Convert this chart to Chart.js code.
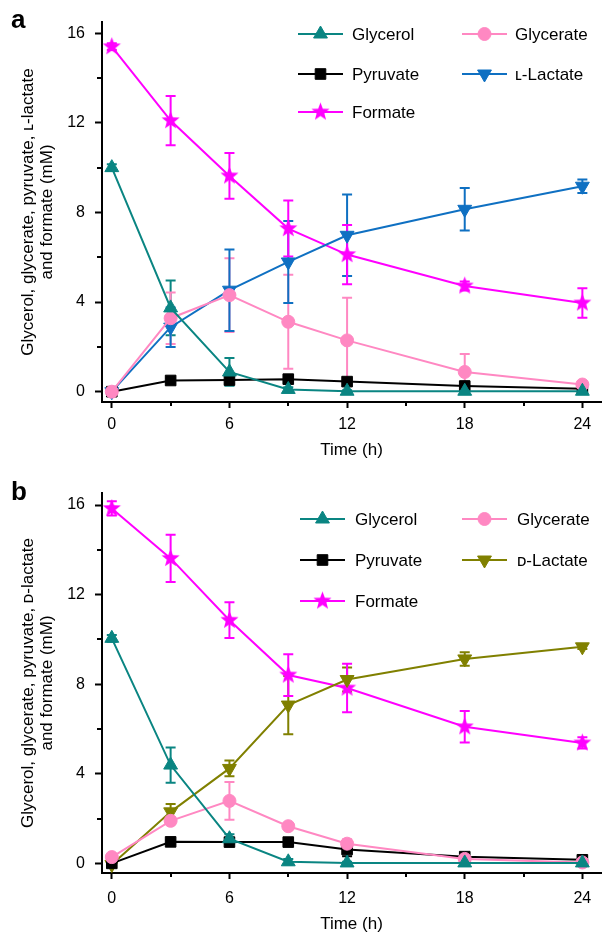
<!DOCTYPE html>
<html lang="en">
<head>
    <meta charset="utf-8">
    <title>Glycerol, glycerate, pyruvate, lactate and formate time course</title>
    <script src="https://cdn.jsdelivr.net/npm/chart.js"></script>
    <style>
        html, body { margin: 0; padding: 0; background: #fff; overflow: hidden; }
        body { width: 611px; height: 933px; position: relative; font-family: "Liberation Sans", Arial, sans-serif; }
        .panel { position: absolute; left: 0; width: 611px; }
        .panel canvas { display: block; }
        #panelA { top: 0; height: 466px; }
        #panelB { top: 466px; height: 470px; }
        .tag { position: absolute; left: 11px; font-weight: bold; font-size: 26px; line-height: 26px; }
    </style>
</head>
<body>
    <div class="panel" id="panelA"><canvas id="chartA" width="611" height="466"></canvas></div>
    <div class="panel" id="panelB"><canvas id="chartB" width="611" height="470"></canvas></div>
    <div class="tag" style="top:6px">a</div>
    <div class="tag" style="top:478px">b</div>

    <script>
        const FONT = '"Liberation Sans", Arial, sans-serif';

        // sampling times (h) and axis ticks
        const hours = [0, 3, 6, 9, 12, 18, 24];
        const xTickValues = [0, 6, 12, 18, 24];
        const xMinorValues = [3, 9, 15, 21];
        const yTickValues = [0, 4, 8, 12, 16];
        const yMinorValues = [2, 6, 10, 14];

        // panel a (mM, mean and error)
        const glycerolA = [10.0, 3.74, 0.88, 0.1, 0.02, 0.02, 0.02];
        const glycerolAErr = [0.15, 1.22, 0.62, 0.1, 0.05, 0.05, 0.05];
        const glycerateA = [0.0, 3.28, 4.31, 3.12, 2.29, 0.88, 0.32];
        const glycerateAErr = [0.05, 1.15, 1.65, 2.1, 1.9, 0.8, 0.15];
        const pyruvateA = [0.0, 0.5, 0.52, 0.56, 0.45, 0.25, 0.13];
        const pyruvateAErr = [0.02, 0.1, 0.15, 0.15, 0.15, 0.2, 0.15];
        const lLactateA = [0.0, 2.88, 4.53, 5.79, 6.98, 8.14, 9.17];
        const lLactateAErr = [0.05, 0.88, 1.82, 1.83, 1.82, 0.95, 0.3];
        const formateA = [15.4, 12.1, 9.63, 7.28, 6.12, 4.72, 3.96];
        const formateAErr = [0.15, 1.1, 1.02, 1.25, 1.32, 0.2, 0.66];

        // panel b (mM, mean and error)
        const glycerolB = [10.05, 4.39, 1.1, 0.07, 0.02, 0.02, 0.02];
        const glycerolBErr = [0.15, 0.79, 0.2, 0.12, 0.05, 0.05, 0.05];
        const glycerateB = [0.28, 1.9, 2.79, 1.66, 0.88, 0.2, 0.04];
        const glycerateBErr = [0.05, 0.15, 0.84, 0.1, 0.2, 0.1, 0.05];
        const pyruvateB = [0.0, 0.96, 0.95, 0.95, 0.62, 0.3, 0.16];
        const pyruvateBErr = [0.02, 0.08, 0.08, 0.1, 0.3, 0.1, 0.1];
        const dLactateB = [-0.05, 2.3, 4.24, 7.07, 8.21, 9.13, 9.67];
        const dLactateBErr = [0.05, 0.35, 0.35, 1.3, 0.54, 0.3, 0.1];
        const formateB = [15.85, 13.62, 10.86, 8.41, 7.83, 6.1, 5.38];
        const formateBErr = [0.32, 1.05, 0.8, 0.93, 1.08, 0.7, 0.25];

        const TEAL = '#0a8582';
        const PINK = '#ff88c2';
        const BLUE = '#0f70c2';
        const OLIVE = '#808000';
        const MAGENTA = '#ff00ff';

        function starImage(color, outer, inner) {
            const c = document.createElement('canvas');
            c.width = c.height = Math.ceil(outer * 2) + 2;
            const g = c.getContext('2d');
            const cx = c.width / 2;
            g.beginPath();
            for (let k = 0; k < 10; k++) {
                const r = k % 2 ? inner : outer;
                const a = -Math.PI / 2 + k * Math.PI / 5;
                g.lineTo(cx + r * Math.cos(a), cx + r * Math.sin(a));
            }
            g.closePath();
            g.fillStyle = color;
            g.fill();
            return c;
        }
        const star = starImage(MAGENTA, 9.5, 4);

        // error bars drawn under the markers
        const errorBars = {
            id: 'errorBars',
            beforeDatasetsDraw(chart) {
                const { ctx, scales: { x, y } } = chart;
                chart.data.datasets.forEach(ds => {
                    if (!ds.errors) return;
                    ctx.save();
                    ctx.strokeStyle = ds.borderColor;
                    ctx.lineWidth = 2;
                    ds.data.forEach((p, j) => {
                        const e = ds.errors[j];
                        const px = x.getPixelForValue(p.x);
                        const top = y.getPixelForValue(p.y + e);
                        const bot = y.getPixelForValue(p.y - e);
                        ctx.beginPath();
                        ctx.moveTo(px, top); ctx.lineTo(px, bot);
                        ctx.moveTo(px - 5, top); ctx.lineTo(px + 5, top);
                        ctx.moveTo(px - 5, bot); ctx.lineTo(px + 5, bot);
                        ctx.stroke();
                    });
                    ctx.restore();
                });
            }
        };

        const minorTicks = {
            id: 'minorTicks',
            afterDraw(chart) {
                const { ctx, chartArea, scales: { x, y } } = chart;
                ctx.save();
                ctx.strokeStyle = '#000';
                ctx.lineWidth = 2;
                ctx.beginPath();
                xMinorValues.forEach(v => {
                    const px = Math.round(x.getPixelForValue(v));
                    ctx.moveTo(px, chartArea.bottom);
                    ctx.lineTo(px, chartArea.bottom + 4);
                });
                yMinorValues.forEach(v => {
                    const py = Math.round(y.getPixelForValue(v));
                    ctx.moveTo(chartArea.left - 5, py);
                    ctx.lineTo(chartArea.left, py);
                });
                ctx.stroke();
                ctx.restore();
            }
        };

        // two column legend inside the plot
        const cornerLegend = {
            id: 'cornerLegend',
            afterDraw(chart, args, opts) {
                const ctx = chart.ctx;
                chart.data.datasets.forEach((ds, i) => {
                    const col = i % 2, row = Math.floor(i / 2);
                    const x0 = opts.cols[col], y0 = opts.rows[row];
                    ctx.save();
                    ctx.strokeStyle = ds.borderColor;
                    ctx.fillStyle = ds.backgroundColor;
                    ctx.lineWidth = 2;
                    ctx.beginPath();
                    ctx.moveTo(x0, y0);
                    ctx.lineTo(x0 + 45, y0);
                    ctx.stroke();
                    ctx.lineWidth = 1;
                    Chart.helpers.drawPoint(ctx, {
                        pointStyle: ds.pointStyle,
                        radius: ds.pointRadius,
                        rotation: ds.pointRotation,
                        borderWidth: 1
                    }, x0 + 22.5, y0);
                    ctx.fillStyle = '#000';
                    ctx.font = '17px ' + FONT;
                    ctx.textBaseline = 'middle';
                    ctx.textAlign = 'left';
                    ctx.fillText(ds.label, opts.textX[col], y0 + 1);
                    ctx.restore();
                });
            }
        };

        function makeChart(canvasId, series, lay) {
            const datasets = series.map(s => ({
                label: s.label,
                data: hours.map((h, i) => ({ x: h, y: s.values[i] })),
                errors: s.errors,
                borderColor: s.color,
                backgroundColor: s.color,
                borderWidth: 2,
                pointStyle: s.marker,
                pointRadius: s.radius,
                pointRotation: s.rotation || 0,
                pointBorderWidth: 1,
                tension: 0
            }));

            return new Chart(document.getElementById(canvasId), {
                type: 'line',
                data: { datasets },
                options: {
                    responsive: false,
                    animation: false,
                    events: [],
                    layout: { padding: { top: lay.top, left: 0, right: 0, bottom: 0 } },
                    plugins: {
                        legend: { display: false },
                        tooltip: { enabled: false },
                        cornerLegend: lay.legend
                    },
                    scales: {
                        x: {
                            type: 'linear',
                            min: -0.5,
                            max: 24.95,
                            afterBuildTicks: s => { s.ticks = xTickValues.map(v => ({ value: v })); },
                            afterFit: s => { s.height = lay.xHeight; },
                            border: { color: '#000', width: 2 },
                            grid: { drawOnChartArea: false, tickLength: 6, tickWidth: 2, tickColor: '#000' },
                            ticks: { color: '#000', font: { size: 16, family: FONT }, padding: lay.xPad, maxRotation: 0, autoSkip: false },
                            title: { display: true, text: 'Time (h)', color: '#000', font: { size: 17, family: FONT }, padding: { top: 0, bottom: lay.titlePad } }
                        },
                        y: {
                            min: lay.yMin,
                            max: lay.yMax,
                            afterBuildTicks: s => { s.ticks = yTickValues.map(v => ({ value: v })); },
                            afterFit: s => { s.width = 102; },
                            border: { color: '#000', width: 2 },
                            grid: { drawOnChartArea: false, tickLength: 7, tickWidth: 2, tickColor: '#000' },
                            ticks: { color: '#000', font: { size: 16, family: FONT }, padding: 10 },
                            title: {
                                display: true,
                                text: lay.yTitle,
                                color: '#000',
                                font: { size: 17, family: FONT, lineHeight: 1.1 },
                                padding: { top: 19, bottom: 0 }
                            }
                        }
                    }
                },
                plugins: [errorBars, minorTicks, cornerLegend]
            });
        }

        makeChart('chartA', [
            { label: 'Glycerol', values: glycerolA, errors: glycerolAErr, color: TEAL, marker: 'triangle', radius: 8 },
            { label: 'Glycerate', values: glycerateA, errors: glycerateAErr, color: PINK, marker: 'circle', radius: 6.5 },
            { label: 'Pyruvate', values: pyruvateA, errors: pyruvateAErr, color: '#000', marker: 'rect', radius: 7.5 },
            { label: '\u029F-Lactate', values: lLactateA, errors: lLactateAErr, color: BLUE, marker: 'triangle', radius: 8, rotation: 180 },
            { label: 'Formate', values: formateA, errors: formateAErr, color: MAGENTA, marker: star, radius: 9 }
        ], {
            top: 22, xHeight: 64, xPad: 7, titlePad: 5, yMin: -0.46, yMax: 16.5,
            yTitle: ['Glycerol, glycerate, pyruvate, \u029F-lactate', 'and formate (mM)'],
            legend: { cols: [298, 462], textX: [352, 515], rows: [34, 74, 112] }
        });

        makeChart('chartB', [
            { label: 'Glycerol', values: glycerolB, errors: glycerolBErr, color: TEAL, marker: 'triangle', radius: 8 },
            { label: 'Glycerate', values: glycerateB, errors: glycerateBErr, color: PINK, marker: 'circle', radius: 6.5 },
            { label: 'Pyruvate', values: pyruvateB, errors: pyruvateBErr, color: '#000', marker: 'rect', radius: 7.5 },
            { label: '\u1D05-Lactate', values: dLactateB, errors: dLactateBErr, color: OLIVE, marker: 'triangle', radius: 8, rotation: 180 },
            { label: 'Formate', values: formateB, errors: formateBErr, color: MAGENTA, marker: star, radius: 9 }
        ], {
            top: 27, xHeight: 63, xPad: 10, titlePad: 1, yMin: -0.43, yMax: 16.54,
            yTitle: ['Glycerol, glycerate, pyruvate, \u1D05-lactate', 'and formate (mM)'],
            legend: { cols: [300, 462], textX: [355, 517], rows: [53, 94, 135] }
        });
    </script>
</body>
</html>
